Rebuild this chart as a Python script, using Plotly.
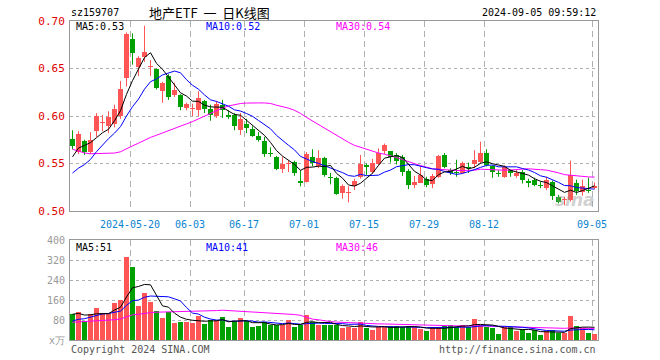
import plotly.graph_objects as go
import pandas as pd

# ---------------- data ----------------
opens = [0.576,0.562,0.574,0.562,0.584,0.593,0.590,0.592,0.600,0.640,
         0.681,0.652,0.662,0.652,0.649,0.626,0.642,0.622,0.622,0.608,
         0.607,0.606,0.616,0.607,0.600,0.612,0.601,0.601,0.585,0.592,
         0.586,0.579,0.574,0.561,0.557,0.544,0.549,0.552,0.532,0.531,
         0.557,0.547,0.556,0.536,0.535,0.519,0.519,0.526,0.536,0.548,
         0.541,0.550,0.563,0.563,0.559,0.557,0.542,0.527,0.530,0.534,
         0.528,0.536,0.559,0.543,0.541,0.540,0.546,0.549,0.552,0.561,
         0.547,0.540,0.536,0.543,0.537,0.541,0.531,0.533,0.527,0.524,
         0.531,0.515,0.512,0.512,0.529,0.520,0.522,0.524]
highs = [0.585,0.584,0.575,0.583,0.603,0.601,0.605,0.612,0.637,0.688,
         0.687,0.663,0.695,0.659,0.650,0.636,0.644,0.635,0.623,0.614,
         0.613,0.626,0.617,0.612,0.616,0.617,0.606,0.603,0.603,0.597,
         0.589,0.583,0.578,0.567,0.558,0.557,0.553,0.553,0.543,0.562,
         0.565,0.564,0.557,0.540,0.536,0.528,0.526,0.534,0.559,0.550,
         0.555,0.566,0.571,0.563,0.561,0.559,0.544,0.537,0.547,0.536,
         0.539,0.559,0.561,0.545,0.554,0.552,0.551,0.564,0.573,0.565,
         0.548,0.543,0.548,0.544,0.543,0.543,0.534,0.535,0.531,0.536,
         0.532,0.517,0.515,0.553,0.533,0.533,0.535,0.530]
lows = [0.565,0.560,0.559,0.560,0.578,0.584,0.582,0.588,0.597,0.631,
        0.654,0.642,0.657,0.642,0.628,0.614,0.617,0.620,0.606,0.606,
        0.600,0.600,0.603,0.595,0.598,0.598,0.597,0.585,0.580,0.582,
        0.578,0.573,0.557,0.557,0.543,0.540,0.541,0.537,0.526,0.530,
        0.547,0.545,0.536,0.528,0.517,0.513,0.509,0.522,0.534,0.538,
        0.539,0.548,0.560,0.551,0.549,0.537,0.523,0.524,0.530,0.525,
        0.524,0.535,0.545,0.538,0.536,0.539,0.540,0.545,0.550,0.547,
        0.535,0.536,0.535,0.536,0.535,0.529,0.525,0.526,0.524,0.522,
        0.5116,0.508,0.506,0.510,0.517,0.516,0.519,0.523]
closes = [0.568,0.581,0.562,0.575,0.600,0.594,0.599,0.607,0.628,0.686,
          0.666,0.661,0.667,0.653,0.630,0.635,0.620,0.627,0.610,0.613,
          0.608,0.619,0.607,0.601,0.613,0.606,0.599,0.589,0.597,0.587,
          0.579,0.575,0.560,0.560,0.544,0.550,0.551,0.540,0.529,0.560,
          0.551,0.556,0.538,0.535,0.518,0.526,0.520,0.532,0.550,0.546,
          0.551,0.561,0.570,0.557,0.553,0.541,0.527,0.531,0.538,0.527,
          0.537,0.558,0.546,0.540,0.540,0.551,0.545,0.554,0.561,0.548,
          0.541,0.539,0.546,0.540,0.540,0.533,0.530,0.527,0.5265,0.533,
          0.516,0.510,0.5125,0.538,0.521,0.526,0.521,0.526]
volumes = [104,112,77,104,128,109,109,149,160,333,
           293,136,189,153,116,88,111,69,73,73,
           69,96,64,80,75,93,53,76,88,76,
           53,57,73,59,59,60,80,53,60,100,
           73,60,60,60,60,48,53,48,72,48,
           40,53,53,56,56,51,56,51,44,36,
           47,50,57,59,53,60,51,85,62,53,
           48,24,53,51,36,44,28,40,20,35,
           40,29,29,96,55,48,30,26]

# estimated sessions before the visible window (only used to warm up the MAs)
prev_close = [0.632,0.628,0.600,0.598,0.595,0.593,0.592,
              0.588,0.585,0.580,0.576,0.572,0.566,0.562,0.558,0.553,0.548,0.545,0.541,0.538,
              0.530,0.525,0.520,0.518,0.522,
              0.535,0.548,0.560,0.574]
prev_volume = [70,65,72,68,66,75,70,64,68,71,67,69,66,70,73,65,68,70,67,66,
               45,52,48,50,50,
               95,110,100,106]

tick_index = [10,20,29,39,49,59,69,87]
tick_labels = ["2024-05-20","06-03","06-17","07-01","07-15","07-29","08-12","09-05"]
price_ticks = [0.50,0.55,0.60,0.65,0.70]
vol_ticks = [0,80,160,240,320,400]
vol_tick_text = ["x万","80","160","240","320","400"]

code = "sz159707"
title = "地产ETF\u00a0\u00a0一\u00a0\u00a0日K线图"
stamp = "2024-09-05 09:59:12"

# ---------------- derived ----------------
n = len(closes)
idx = list(range(n))
cs = pd.Series(prev_close + closes)
vs = pd.Series(prev_volume + volumes)
ma = {k: cs.rolling(k).mean().tolist()[-n:] for k in (5, 10, 30)}
vma = {k: vs.rolling(k).mean().tolist()[-n:] for k in (5, 10, 30)}

RED = "#ff5555"
GREEN = "#00a000"
W, H = 660, 360
def px(x): return x / W
def py(y): return 1 - y / H

fig = go.Figure()

up = [i for i in idx if closes[i] >= opens[i]]
dn = [i for i in idx if closes[i] < opens[i]]

for group, col in ((up, RED), (dn, GREEN)):
    wx, wy = [], []
    for i in group:
        wx += [i, i, None]
        wy += [lows[i], highs[i], None]
    fig.add_trace(go.Scatter(x=wx, y=wy, mode="lines", line=dict(color=col, width=1),
                             xaxis="x", yaxis="y", hoverinfo="skip"))
    fig.add_trace(go.Bar(x=group,
                         y=[max(abs(closes[i] - opens[i]), 0.0011) for i in group],
                         base=[min(closes[i], opens[i]) for i in group],
                         width=0.83, marker=dict(color=col, line=dict(width=0)),
                         xaxis="x", yaxis="y"))
    fig.add_trace(go.Bar(x=group, y=[volumes[i] for i in group], width=0.83,
                         marker=dict(color=col, line=dict(width=0)),
                         xaxis="x2", yaxis="y2"))

for k, col in ((30, "#ff00ff"), (10, "#0000ff"), (5, "#000000")):
    fig.add_trace(go.Scatter(x=idx, y=ma[k], mode="lines", line=dict(color=col, width=1),
                             xaxis="x", yaxis="y"))
    fig.add_trace(go.Scatter(x=idx, y=vma[k], mode="lines", line=dict(color=col, width=1),
                             xaxis="x2", yaxis="y2"))

xr = [-5/12, n - 5/12]
tv = [t - 5/12 for t in tick_index]
mono = "DejaVu Sans Mono"
common_x = dict(range=xr, showline=True, linecolor="#999", mirror=True, linewidth=1,
                tickvals=tv, showgrid=True, gridcolor="#b0b0b0", griddash="6px,4px",
                zeroline=False, fixedrange=True, automargin=False)
fig.update_layout(
    width=W, height=H, margin=dict(l=0, r=0, t=0, b=0), autosize=False,
    paper_bgcolor="white", plot_bgcolor="white", showlegend=False, barmode="overlay",
    bargap=0, hovermode=False,
    xaxis=dict(domain=[px(70), px(598)], anchor="y", ticktext=tick_labels,
               ticks="outside", ticklen=4, tickcolor="rgba(0,0,0,0)",
               tickfont=dict(family=mono, size=10, color="#0a84d0"), **common_x),
    yaxis=dict(domain=[py(211), py(21)], anchor="x", range=[0.50, 0.70],
               tickvals=price_ticks, tickformat=".2f", showline=True, linecolor="#999",
               mirror=True, showgrid=True, gridcolor="#b0b0b0", griddash="dot",
               zeroline=False, ticks="outside", ticklen=2, tickcolor="rgba(0,0,0,0)",
               automargin=False,
               tickfont=dict(family=mono, size=11, color="#e00000"), fixedrange=True),
    xaxis2=dict(domain=[px(70), px(598)], anchor="y2", showticklabels=False, **common_x),
    yaxis2=dict(domain=[py(340), py(240)], anchor="x2", range=[0, 400],
                tickvals=vol_ticks, ticktext=vol_tick_text, showline=True, linecolor="#999",
                mirror=True, showgrid=True, gridcolor="#b0b0b0", griddash="dot",
                zeroline=False, ticks="outside", ticklen=2, tickcolor="rgba(0,0,0,0)",
                automargin=False,
                tickfont=dict(family=mono, size=10, color="#999"), fixedrange=True),
)

def note(text, x, y, color="#000", size=10, anchor="left", family=mono, **kw):
    fig.add_annotation(text=text, x=px(x), y=py(y), xref="paper", yref="paper",
                       xanchor=anchor, yanchor="middle", showarrow=False,
                       font=dict(family=family, size=size, color=color), **kw)

note(code, 69, 12.5)
note(title, 209, 12.5, anchor="center", size=13, family="Noto Sans CJK SC")
note(stamp, 598, 12.5, anchor="right")
note("MA5:%.2f" % ma[5][-1], 74, 27)
note("MA10:%.2f" % ma[10][-1], 204, 27, color="#0000ff")
note("MA30:%.2f" % ma[30][-1], 334, 27, color="#ff00ff")
note("MA5:%d" % round(vma[5][-1]), 74, 247)
note("MA10:%d" % round(vma[10][-1]), 204, 247, color="#0000ff")
note("MA30:%d" % round(vma[30][-1]), 334, 247, color="#ff00ff")
note("Copyright 2024 SINA.COM", 69, 349, color="#555")
note("http://finance.sina.com.cn", 598, 349, color="#555", anchor="right")
note("<b><i>sina</i></b>", 597, 200, color="rgba(150,150,150,0.45)", size=17,
     anchor="right", family="DejaVu Sans")

# remove the browser's default 8px page margin so the 660x360 figure fills the window
fig.write_html("out.html", config={"displayModeBar": False, "staticPlot": True},
               post_script="document.body.style.margin='0px';")
